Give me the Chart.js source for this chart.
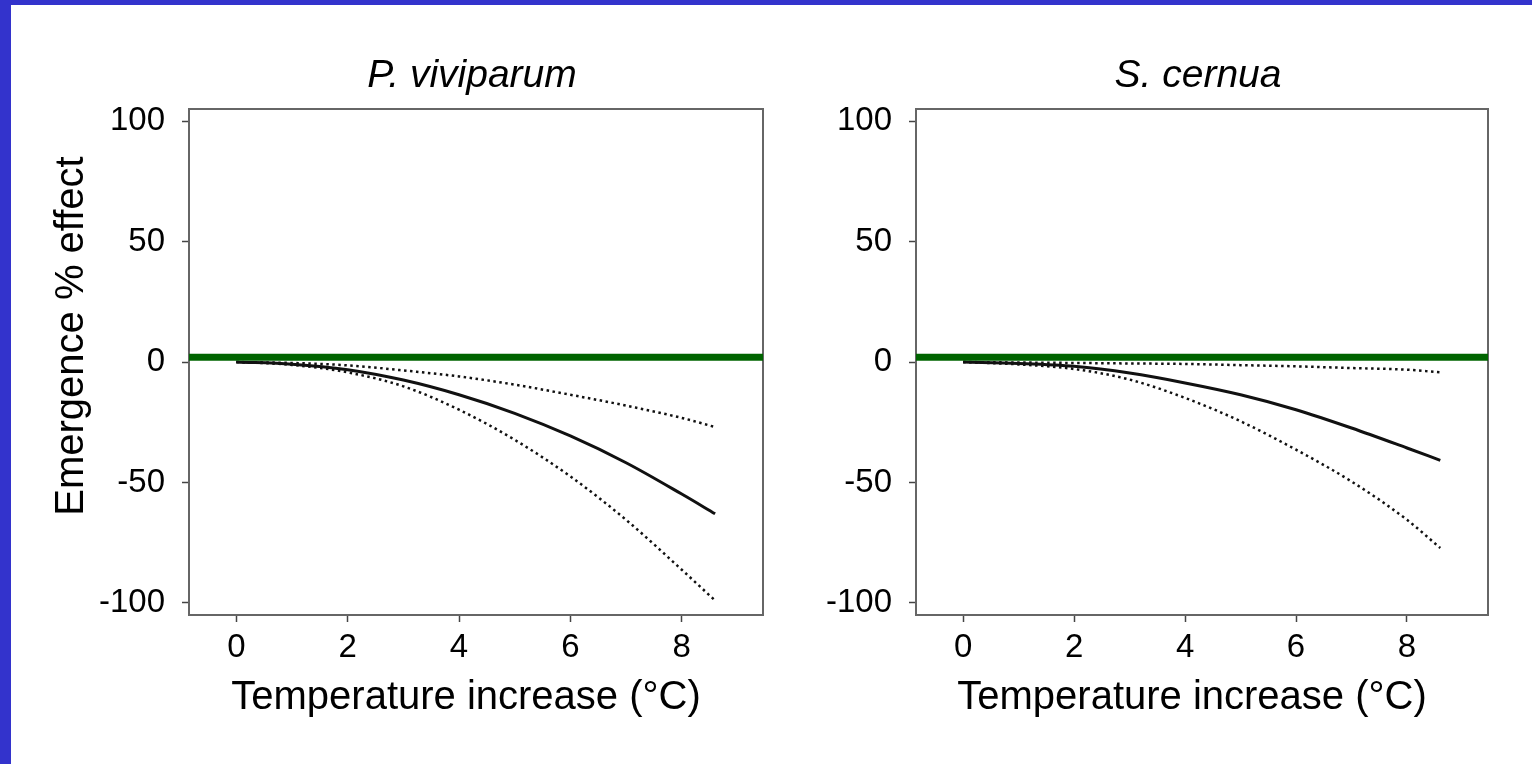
<!DOCTYPE html>
<html>
<head>
<meta charset="utf-8">
<script src="https://cdn.jsdelivr.net/npm/chart.js@4.4.0/dist/chart.umd.min.js"></script>
<style>
  html, body { margin: 0; padding: 0; background: #fff; }
  body { width: 1532px; height: 764px; position: relative; overflow: hidden; }
  .frame-top { position: absolute; left: 0; top: 0; width: 1532px; height: 5px; background: #3333cc; z-index: 2; }
  .frame-left { position: absolute; left: 0; top: 0; width: 11px; height: 764px; background: #3333cc; z-index: 2; }
  #chartP { position: absolute; left: 0; top: 0; }
  #chartS { position: absolute; left: 800px; top: 0; }
</style>
</head>
<body>
<div class="frame-top"></div>
<div class="frame-left"></div>
<canvas id="chartP" width="800" height="764"></canvas>
<canvas id="chartS" width="732" height="764"></canvas>
<script>
const temps = [0, 1, 2, 3, 4, 5, 6, 7, 8, 8.6];

// P. viviparum: fitted effect and its two bounds
const pvMean  = [0, -0.9, -3.2, -7.5, -13.6, -21.3, -30.7, -41.8, -54.8, -63];
const pvUpper = [0, -0.4, -1.4, -3.5, -6, -9.4, -13.6, -18.1, -23.2, -27];
const pvLower = [0, -1.2, -4.3, -10.1, -19.8, -32.3, -47.5, -65.5, -86.2, -99];

// S. cernua
const scMean  = [0, -0.6, -1.8, -4.6, -8.7, -13.6, -19.8, -27.4, -35.7, -40.8];
const scUpper = [0, -0.2, -0.4, -0.6, -0.8, -1.3, -1.8, -2.5, -3.2, -4.3];
const scLower = [0, -1, -2.9, -7.3, -14.9, -24.6, -36.4, -49.6, -65.5, -77.2];

const refLevel = 2;   // green line
const xTicks = [0, 2, 4, 6, 8];
const yTicks = [-100, -50, 0, 50, 100];
const xRange = [-0.85, 9.46];
const yRange = [-105, 105];

const FONT = "'Liberation Sans', Arial, Helvetica, sans-serif";

function curve(values, dashed, width) {
    return {
        data: temps.map((t, i) => ({ x: t, y: values[i] })),
        borderColor: '#111',
        borderWidth: width,
        borderDash: dashed ? [2.5, 3.5] : [],
        pointRadius: 0,
        cubicInterpolationMode: 'monotone',
        fill: false
    };
}

function makePanel(id, title, mean, upper, lower, yAxisWidth, padRight, yTitle) {
    const textPlugin = {
        id: 'panelText',
        beforeDatasetsDraw(chart) {
            const { ctx, chartArea: a } = chart;
            ctx.save();
            ctx.strokeStyle = '#666';
            ctx.lineWidth = 2;
            ctx.strokeRect(a.left, a.top, a.right - a.left, a.bottom - a.top);
            ctx.restore();
        },
        afterDraw(chart) {
            const { ctx, chartArea: a } = chart;
            const cx = (a.left + a.right) / 2;
            ctx.save();
            ctx.fillStyle = '#000';
            ctx.textAlign = 'center';

            ctx.font = `italic 39px ${FONT}`;
            ctx.textBaseline = 'alphabetic';
            ctx.fillText(title, cx - 4, 87);

            ctx.font = `40px ${FONT}`;
            ctx.textBaseline = 'middle';
            ctx.fillText('Temperature increase (°C)', cx - 10, 698);

            if (yTitle) {
                ctx.translate(72, 336);
                ctx.rotate(-Math.PI / 2);
                ctx.font = `40px ${FONT}`;
                ctx.fillText(yTitle, 0, 0);
            }
            ctx.restore();
        }
    };

    const tickFont = { family: FONT, size: 33 };

    return new Chart(document.getElementById(id), {
        type: 'line',
        data: {
            datasets: [
                {
                    data: [{ x: xRange[0], y: refLevel }, { x: xRange[1], y: refLevel }],
                    borderColor: '#006400',
                    borderWidth: 7,
                    pointRadius: 0,
                    fill: false
                },
                curve(mean, false, 3),
                curve(upper, true, 2.5),
                curve(lower, true, 2.5)
            ]
        },
        options: {
            responsive: false,
            animation: false,
            layout: { padding: { left: 0, right: padRight, top: 109, bottom: 39 } },
            plugins: { legend: { display: false }, tooltip: { enabled: false } },
            scales: {
                x: {
                    type: 'linear',
                    min: xRange[0],
                    max: xRange[1],
                    afterBuildTicks: s => { s.ticks = xTicks.map(v => ({ value: v })); },
                    afterFit: s => { s.height = 110; },
                    border: { display: false },
                    grid: { drawOnChartArea: false, drawTicks: true, tickLength: 7, tickColor: '#444', tickWidth: 1.5 },
                    ticks: { color: '#000', font: tickFont, padding: 6, maxRotation: 0, callback: v => String(v) }
                },
                y: {
                    type: 'linear',
                    min: yRange[0],
                    max: yRange[1],
                    afterBuildTicks: s => { s.ticks = yTicks.map(v => ({ value: v })); },
                    afterFit: s => { s.width = yAxisWidth; },
                    border: { display: false },
                    grid: { drawOnChartArea: false, drawTicks: true, tickLength: 7, tickColor: '#444', tickWidth: 1.5 },
                    ticks: { color: '#000', font: tickFont, padding: 17, callback: v => String(v) }
                }
            }
        },
        plugins: [textPlugin]
    });
}

makePanel('chartP', 'P. viviparum', pvMean, pvUpper, pvLower, 189, 37, 'Emergence % effect');
makePanel('chartS', 'S. cernua', scMean, scUpper, scLower, 116, 44, null);
</script>
</body>
</html>
